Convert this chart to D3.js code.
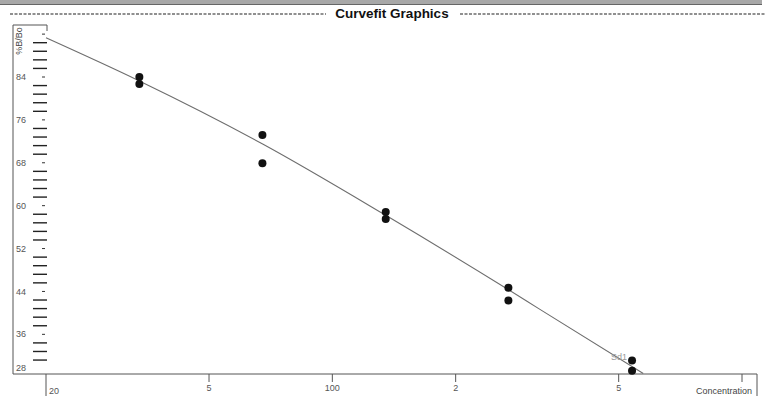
<!DOCTYPE html>
<html>
<head>
<meta charset="utf-8">
<script src="https://d3js.org/d3.v7.min.js"></script>
<style>
  body { margin: 0; background: #fff; }
  text { font-family: "Liberation Sans", Arial, sans-serif; }
</style>
</head>
<body>
<div class="svg-container"></div>
<script>
// data
const concentrations = [0.338, 0.675, 1.35, 2.69, 5.39];
const replicateA = [84.0, 73.2, 58.8, 44.7, 31.1];
const replicateB = [82.7, 67.9, 57.5, 42.3, 29.2];

// fitted curve, read as points along the drawn line
const curveConc = [0.2, 0.337, 0.676, 1.35, 2.68, 3.19, 5.74];
const curveVal = [91.3, 83.3, 71.5, 58.2, 44.4, 40.8, 28.7];

const xTickValues = [0.2, 0.5, 1, 2, 5, 10];
const xTickLabels = ["20", "5", "100", "2", "5", ""];
const yTickValues = [92, 84, 76, 68, 60, 52, 44, 36, 28];

const w = 765;
const h = 396;

const svg = d3.select(".svg-container")
  .append("svg")
  .attr("width", w)
  .attr("height", h);

// header strip
svg.append("rect")
  .attr("x", 0).attr("y", 0)
  .attr("width", 762).attr("height", 4)
  .attr("fill", "#a8a8a8");
svg.append("line")
  .attr("x1", 0).attr("x2", 762)
  .attr("y1", 4.5).attr("y2", 4.5)
  .attr("stroke", "#666");

// title with dashed rules
svg.append("line")
  .attr("x1", 10).attr("x2", 326)
  .attr("y1", 14).attr("y2", 14)
  .attr("stroke", "#222")
  .attr("stroke-width", 1.2)
  .attr("stroke-dasharray", "3,1.5");
svg.append("line")
  .attr("x1", 460).attr("x2", 765)
  .attr("y1", 14).attr("y2", 14)
  .attr("stroke", "#222")
  .attr("stroke-width", 1.2)
  .attr("stroke-dasharray", "3,1.5");
svg.append("text")
  .attr("x", 392)
  .attr("y", 18)
  .attr("text-anchor", "middle")
  .attr("font-size", 13.5)
  .attr("font-weight", "bold")
  .attr("fill", "#111")
  .text("Curvefit Graphics");

// XSCALE
const xScale = d3.scaleLog()
  .domain([0.2, 10])
  .range([46, 742]);

// YSCALE
const yScale = d3.scaleLinear()
  .domain([28.6, 93.7])
  .range([374, 25]);

const plotBottom = yScale.range()[0];
const plotTop = yScale.range()[1];

// frame
svg.append("path")
  .attr("d", "M47,31 V" + plotTop + " H13 V" + plotBottom + " H757 V396")
  .attr("fill", "none")
  .attr("stroke", "#555")
  .attr("stroke-width", 1);

// y minor ticks (every 1.6)
const minor = [];
yTickValues.slice(0, -1).forEach(v => {
  for (let k = 1; k <= 4; k++) {
    const m = v - k * 1.6;
    if (m > 30) minor.push(m);
  }
});
svg.selectAll(".minor")
  .data(minor)
  .enter()
  .append("line")
  .attr("class", "minor")
  .attr("x1", 33).attr("x2", 47)
  .attr("y1", d => yScale(d)).attr("y2", d => yScale(d))
  .attr("stroke", "#222")
  .attr("stroke-width", 1.4);

svg.selectAll(".major")
  .data(yTickValues.filter(v => v > 30))
  .enter()
  .append("line")
  .attr("class", "major")
  .attr("x1", 42).attr("x2", 45)
  .attr("y1", d => yScale(d)).attr("y2", d => yScale(d))
  .attr("stroke", "#333");

svg.selectAll(".ylabel")
  .data(yTickValues.filter(v => v < 90))
  .enter()
  .append("text")
  .attr("class", "ylabel")
  .attr("x", 16)
  .attr("y", d => Math.min(yScale(d), plotBottom - 6))
  .attr("dy", "0.35em")
  .attr("font-size", 9)
  .attr("fill", "#555")
  .text(d => d);

svg.append("text")
  .attr("transform", "translate(22,41) rotate(-90)")
  .attr("text-anchor", "middle")
  .attr("font-size", 9)
  .attr("fill", "#444")
  .text("%B/Bo");

// x ticks
svg.selectAll(".xtick")
  .data(xTickValues)
  .enter()
  .append("line")
  .attr("class", "xtick")
  .attr("x1", d => xScale(d)).attr("x2", d => xScale(d))
  .attr("y1", plotBottom)
  .attr("y2", (d, i) => i === 0 ? 396 : plotBottom + 8)
  .attr("stroke", "#555");

svg.selectAll(".xlabel")
  .data(xTickValues)
  .enter()
  .append("text")
  .attr("class", "xlabel")
  .attr("x", (d, i) => i === 0 ? xScale(d) + 3 : xScale(d))
  .attr("y", (d, i) => i === 0 ? 394 : 391)
  .attr("text-anchor", (d, i) => i === 0 ? "start" : "middle")
  .attr("font-size", 9)
  .attr("fill", "#555")
  .text((d, i) => xTickLabels[i]);

svg.append("text")
  .attr("x", 752)
  .attr("y", 394)
  .attr("text-anchor", "end")
  .attr("font-size", 9)
  .attr("fill", "#444")
  .text("Concentration");

// fitted curve
const line = d3.line()
  .x(d => xScale(d[0]))
  .y(d => yScale(d[1]))
  .curve(d3.curveMonotoneX);

svg.append("path")
  .datum(curveConc.map((c, i) => [c, curveVal[i]]))
  .attr("d", line)
  .attr("fill", "none")
  .attr("stroke", "#6e6e6e")
  .attr("stroke-width", 1.1);

// points
const points = concentrations.flatMap((c, i) => [[c, replicateA[i]], [c, replicateB[i]]]);
svg.selectAll(".dot")
  .data(points)
  .enter()
  .append("circle")
  .attr("class", "dot")
  .attr("cx", d => xScale(d[0]))
  .attr("cy", d => yScale(d[1]))
  .attr("r", 4)
  .attr("fill", "#111");

// standard label
const last = concentrations.length - 1;
svg.append("text")
  .attr("x", xScale(concentrations[last]) - 21)
  .attr("y", yScale(replicateA[last]) - 1)
  .attr("font-size", 9)
  .attr("fill", "#999")
  .text("Sd1");
</script>
</body>
</html>
